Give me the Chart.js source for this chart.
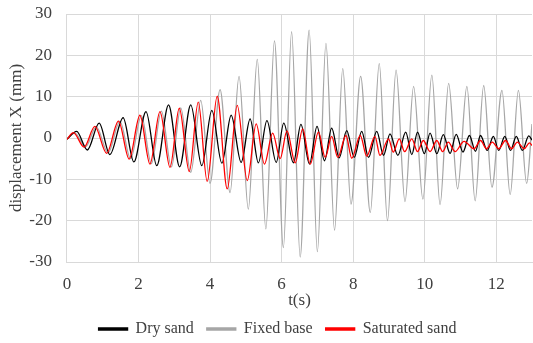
<!DOCTYPE html>
<html>
<head>
<meta charset="utf-8">
<script src="https://cdn.jsdelivr.net/npm/chart.js@4"></script>
<style>
  html, body { margin: 0; padding: 0; background: #fff; }
  #wrap { width: 533px; height: 343px; }
</style>
</head>
<body>
<div id="wrap"><canvas id="chart"></canvas></div>
<script>
// peaks and troughs
const dryT = [0, 0.27, 0.57, 0.9, 1.2, 1.57, 1.87, 2.21, 2.51, 2.84, 3.15, 3.46, 3.77, 4.05, 4.33, 4.59, 4.87, 5.12, 5.35, 5.59, 5.85, 6.06, 6.33, 6.54, 6.78, 6.99, 7.2, 7.4, 7.61, 7.82, 8.03, 8.24, 8.43, 8.66, 8.85, 9.03, 9.25, 9.47, 9.64, 9.8, 9.99, 10.15, 10.34, 10.52, 10.71, 10.88, 11.07, 11.25, 11.42, 11.56, 11.75, 11.92, 12.07, 12.24, 12.4, 12.56, 12.73, 12.91, 13];
const dryX = [-0.3, 1.6, -2.9, 3.6, -4, 4.9, -5.8, 6.4, -6.7, 8, -7, 8, -6.7, 6.7, -6.1, 5.5, -5.9, 4.6, -6, 4.2, -5.9, 3.6, -6, 3.3, -6.3, 2.8, -5.5, 2.4, -4.8, 1.8, -4.7, 1.6, -4.7, 1.6, -4.2, 1.0, -4.2, 1.4, -4, 1.4, -3.8, 1.2, -3.8, 0.8, -3.7, 0.9, -3.4, 0.6, -3.2, 0.6, -3, 0.4, -3, 0.4, -3, 0.4, -3, 0.5, -0.5];

const fixedT = [0, 0.22, 0.52, 0.82, 1.15, 1.48, 1.78, 2.08, 2.36, 2.64, 2.92, 3.18, 3.46, 3.74, 4.0, 4.28, 4.56, 4.81, 5.07, 5.32, 5.56, 5.8, 6.05, 6.28, 6.52, 6.77, 7.0, 7.24, 7.48, 7.71, 7.94, 8.21, 8.48, 8.73, 8.96, 9.2, 9.45, 9.69, 9.95, 10.2, 10.43, 10.67, 10.92, 11.18, 11.41, 11.65, 11.88, 12.16, 12.39, 12.62, 12.85, 13];
const fixedX = [-0.2, 1.2, -2.1, 2.7, -3.6, 4.0, -5.0, 5.4, -6.2, 6.5, -7.0, 7.3, -8.3, 9.1, -11, 11.7, -13.2, 14.9, -17.2, 19, -22, 23.5, -26.5, 25.7, -28.8, 26.1, -27.5, 22.9, -22.3, 16.8, -16, 14.9, -18, 18, -20, 16.4, -15.4, 12.5, -14.8, 15.2, -16.1, 13.2, -12.3, 12.5, -15.2, 12.7, -11.9, 11.5, -13.7, 11.5, -11, 3.4];

const satT = [0, 0.18, 0.48, 0.78, 1.11, 1.44, 1.74, 2.04, 2.32, 2.6, 2.88, 3.14, 3.42, 3.67, 3.92, 4.2, 4.48, 4.76, 5.04, 5.29, 5.52, 5.75, 5.96, 6.15, 6.38, 6.59, 6.8, 7.03, 7.22, 7.4, 7.57, 7.8, 7.96, 8.2, 8.38, 8.61, 8.75, 8.99, 9.12, 9.29, 9.44, 9.64, 9.8, 9.96, 10.15, 10.34, 10.5, 10.66, 10.85, 11.1, 11.38, 11.56, 11.73, 11.89, 12.07, 12.26, 12.43, 12.59, 12.78, 12.93, 13];
const satX = [-0.3, 1.3, -2.2, 2.8, -3.7, 4.1, -5.1, 5.5, -6.3, 6.4, -7.1, 7.2, -8.1, 8.7, -10.5, 10.1, -12.3, 7.9, -10.3, 3.4, -6.3, 1.2, -5, 1.7, -6, 2.2, -6.3, 1.4, -4.7, 0.4, -4.7, 0.6, -4.9, 0.6, -4.4, 0.4, -4.2, -0.2, -3.4, -0.2, -3.3, -0.2, -3.3, -0.6, -3.3, -0.6, -3.3, -1.0, -3.3, -0.8, -2.6, -0.6, -2.6, -1.0, -2.6, -0.6, -2.6, -1.0, -2.6, -1.2, -1.8];

const xTicks = [0, 2, 4, 6, 8, 10, 12];

const toPoints = (ts, xs) => ts.map((t, i) => ({ x: t, y: xs[i] }));

const serif = "'Liberation Serif', 'Times New Roman', serif";
Chart.defaults.font.family = serif;
Chart.defaults.color = '#404040';

function lineSet(label, ts, xs, color, order) {
    return {
        label: label,
        data: toPoints(ts, xs),
        borderColor: color,
        backgroundColor: color,
        borderWidth: 1.3,
        pointRadius: 0,
        cubicInterpolationMode: 'monotone',
        order: order
    };
}

new Chart(document.getElementById('chart'), {
    type: 'line',
    data: {
        datasets: [
            lineSet('Dry sand', dryT, dryX, '#000000', 2),
            lineSet('Fixed base', fixedT, fixedX, '#a6a6a6', 3),
            lineSet('Saturated sand', satT, satX, '#ff0000', 1)
        ]
    },
    options: {
        responsive: true,
        maintainAspectRatio: false,
        animation: false,
        layout: { padding: { top: 14, right: 1, left: 23, bottom: -4 } },
        plugins: {
            tooltip: { enabled: false },
            legend: {
                position: 'bottom',
                labels: {
                    sort: (a, b) => a.datasetIndex - b.datasetIndex,
                    boxWidth: 29,
                    boxHeight: 2,
                    padding: 13,
                    color: '#404040',
                    font: { size: 16 }
                }
            }
        },
        scales: {
            x: {
                type: 'linear',
                min: 0,
                max: 13,
                afterBuildTicks: axis => {
                    axis.ticks = xTicks.map(v => ({ value: v }));
                },
                grid: { color: '#d9d9d9', drawTicks: false },
                border: { color: '#d9d9d9' },
                ticks: { padding: 12, font: { size: 17 }, color: '#404040' },
                title: { display: true, text: 't(s)', font: { size: 17 }, color: '#404040', padding: { top: -15.6, bottom: -3.2 } }
            },
            y: {
                min: -30,
                max: 30,
                // top label may overhang into the padding, like the original
                afterFit: scale => { scale.paddingTop = 0; },
                grid: { color: '#d9d9d9', drawTicks: false },
                border: { color: '#d9d9d9' },
                ticks: { stepSize: 10, padding: 15, font: { size: 17 }, color: '#404040' },
                title: { display: true, text: 'displacement X (mm)', font: { size: 17 }, color: '#404040', padding: { top: -16.2, bottom: -12.9 } }
            }
        }
    }
});
</script>
</body>
</html>
